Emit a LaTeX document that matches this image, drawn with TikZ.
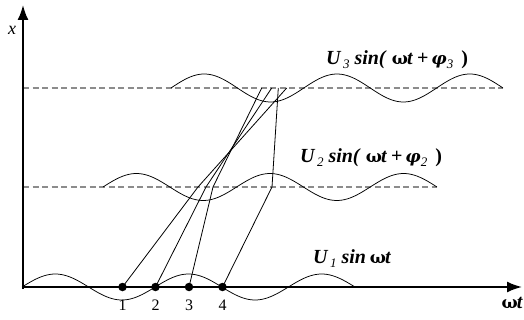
\documentclass[tikz,border=0pt]{standalone}
\usepackage{fontspec}
\setmainfont{Liberation Serif}
\newfontfamily\grk{DejaVu Serif}
\usetikzlibrary{arrows.meta}
\tikzset{
  axis/.style={line width=2pt,-{Latex[length=15pt,width=11pt]}},
  level/.style={draw=gray!90,line width=1.1pt,dash pattern=on 6pt off 3.5pt},
  wave/.style={line width=0.75pt},
  ray/.style={line width=0.8pt},
  dot/.style={circle,fill=black,inner sep=0pt,minimum size=8.5pt},
  lbl/.style={inner sep=0pt,font=\fontsize{20}{22}\selectfont},
  num/.style={inner sep=0pt,font=\fontsize{16}{18}\selectfont},
}
\newcommand{\subf}[1]{\raisebox{-4pt}{\fontsize{13}{13}\selectfont\textit{#1}}}
\newcommand{\omt}{{\grk\bfseries\fontsize{17}{18}\selectfont ω}\hspace{-1pt}\textbf{\textit{t}}}
\newcommand{\phib}{{\grk\bfseries\itshape\fontsize{17}{18}\selectfont φ}}
\begin{document}
\begin{tikzpicture}[x=1pt,y=-1pt]
\useasboundingbox (0,0) rectangle (524,320);
% levels
\draw[level] (23,88) -- (503,88);
\draw[level] (23,187) -- (437,187);
% waves
\draw[wave] plot[domain=22:355,samples=120,smooth] (\x,{287-13*sin((\x-22)/133.2*360)});
\draw[wave] plot[domain=103:437,samples=120,smooth] (\x,{187-13.5*sin((\x-103)/133.6*360)});
\draw[wave] plot[domain=171:503,samples=120,smooth] (\x,{88-14*sin((\x-171)/132.8*360)});
% axes
\coordinate (o) at (23,287);
\coordinate (ytip) at (23,5);
\coordinate (xtip) at (522,287);
\draw[axis] (23,289) -- (ytip);
\draw[axis] (o) -- (xtip);
% ray points
\node[dot] (d1) at (122.5,287) {};
\node[dot] (d2) at (155.5,287) {};
\node[dot] (d3) at (189,287) {};
\node[dot] (d4) at (222.5,287) {};
\coordinate (m1) at (198,187);
\coordinate (m2) at (206,187);
\coordinate (m3) at (213,187);
\coordinate (m4) at (272,187);
\coordinate (t1) at (286.7,88);
\coordinate (t2) at (271.7,88);
\coordinate (t3) at (261.7,88);
\coordinate (t4) at (278.3,88);
\draw[ray] (d1.center) -- (m1) -- (t1);
\draw[ray] (d2.center) -- (m2) -- (t2);
\draw[ray] (d3.center) -- (m3) -- (t3);
\draw[ray] (d4.center) -- (m4) -- (t4);
% numbers
\node[num] (n1) at (122.5,305) {1};
\node[num] (n2) at (155.5,305) {2};
\node[num] (n3) at (189,305) {3};
\node[num] (n4) at (222.5,305) {4};
% axis labels
\node[inner sep=0pt,font=\fontsize{18}{18}\selectfont\itshape] (xl) at (12,30) {x};
\node[inner sep=0pt,anchor=base east,font=\fontsize{20}{20}\selectfont] (wl) at (523,308) {\omt};
% formula labels
\node[lbl,anchor=base west] (l3) at (326,65) {\textbf{\textit{U}}\hspace{1.5pt}\subf{3}\hspace{5pt}\textbf{\textit{sin(}}\hspace{5pt}\omt\hspace{4pt}\textbf{+}\hspace{3pt}\phib\subf{3}\hspace{8pt}\textbf{)}};
\node[lbl,anchor=base west] (l2) at (300,163) {\textbf{\textit{U}}\hspace{1.5pt}\subf{2}\hspace{5pt}\textbf{\textit{sin(}}\hspace{5pt}\omt\hspace{4pt}\textbf{+}\hspace{3pt}\phib\subf{2}\hspace{8pt}\textbf{)}};
\node[lbl,anchor=base west] (l1) at (313,263) {\textbf{\textit{U}}\hspace{1.5pt}\subf{1}\hspace{5pt}\textbf{\textit{sin}}\hspace{4pt}\omt};
\end{tikzpicture}
\end{document}
